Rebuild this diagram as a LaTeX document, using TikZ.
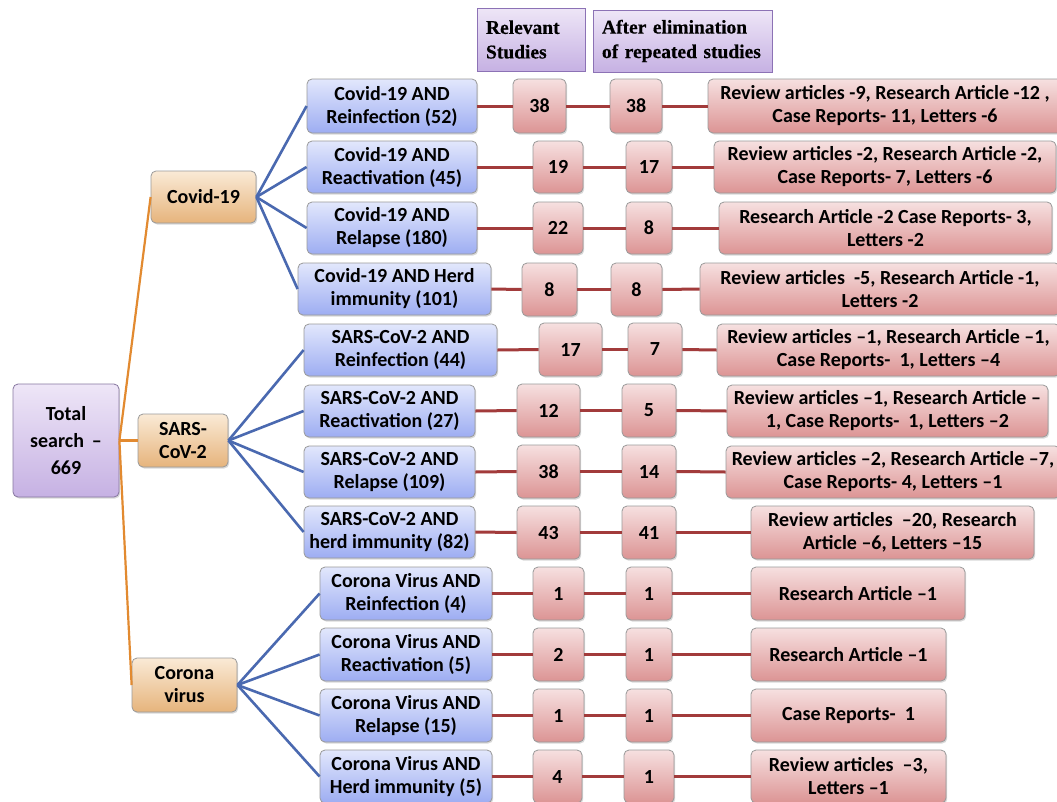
\documentclass[tikz,border=0pt]{standalone}
\usepackage{fontspec}
\setmainfont{Carlito}
\newfontfamily\hdrfont[BoldFeatures={FakeBold=0.4}]{Liberation Serif}
\usetikzlibrary{shadows}
\definecolor{purT}{HTML}{EEE6F7}
\definecolor{purB}{HTML}{C6B1E3}
\definecolor{purD}{HTML}{8C72B5}
\definecolor{orT}{HTML}{FAEAD6}
\definecolor{orB}{HTML}{E6B47C}
\definecolor{bluT}{HTML}{E2E7FC}
\definecolor{bluB}{HTML}{9DADF2}
\definecolor{pnkT}{HTML}{F6E0E0}
\definecolor{pnkB}{HTML}{DC9494}
\definecolor{edgeG}{HTML}{9A9A9A}
\definecolor{lnOr}{HTML}{E28A30}
\definecolor{lnBl}{HTML}{4A69B0}
\definecolor{lnRd}{HTML}{A23B3B}
\begin{document}
\begin{tikzpicture}[x=1pt,y=-1pt,
  box/.style={rounded corners=5pt, draw=edgeG, line width=0.8pt, inner sep=1pt, align=center,
    font=\bfseries\fontsize{20}{23}\selectfont,
    drop shadow={shadow xshift=1.2pt, shadow yshift=-1.5pt, opacity=0.3}},
  wh/.style 2 args={minimum width=#1, minimum height=#2},
  cat/.style={box, top color=orT, bottom color=orB},
  sub/.style={box, top color=bluT, bottom color=bluB},
  num/.style={box, top color=pnkT, bottom color=pnkB},
  tot/.style={box, top color=purT, bottom color=purB, draw=purD!60!gray,
    font=\bfseries\fontsize{20}{27}\selectfont},
  hdr/.style={draw=purD, line width=0.9pt, top color=purT, bottom color=purB, align=left,
    inner xsep=9pt, inner ysep=0pt, font=\hdrfont\bfseries\fontsize{19.5}{24.5}\selectfont,
    drop shadow={shadow xshift=1pt, shadow yshift=-1pt, opacity=0.2}},
  orline/.style={draw=lnOr, line width=2.2pt},
  blline/.style={draw=lnBl, line width=2.6pt},
  rdline/.style={draw=lnRd, line width=3pt}
]
\useasboundingbox (0,0) rectangle (1057,801);
\clip (0,0) rectangle (1057,801);
\fill[white] (0,0) rectangle (1057,801);

% headers
\node[hdr, text width=90pt, minimum height=63pt] (hRel) at (531,39.5) {\mbox{Relevant}\\\mbox{Studies}};
\node[hdr, text width=161pt, minimum height=62pt] (hAft) at (682.5,41) {\mbox{After elimination}\\\mbox{of repeated studies}};

% total and categories
\node[tot, wh={106pt}{113pt}] (tot) at (66,440.5) {Total\\search \,--\\669};
\node[cat, wh={105pt}{52pt}] (cCov) at (203.5,197) {Covid-19};
\node[cat, wh={90pt}{53pt}] (cSars) at (183,440.5) {SARS-\\CoV-2};
\node[cat, wh={105pt}{54pt}] (cCor) at (184.5,685) {Corona\\virus};

% sub-categories
\node[sub, wh={170pt}{54pt}] (b1) at (392,106) {Covid-19 AND\\Reinfection (52)};
\node[sub, wh={170pt}{52pt}] (b2) at (392,167) {Covid-19 AND\\Reactivation (45)};
\node[sub, wh={170pt}{52pt}] (b3) at (392,228) {Covid-19 AND\\Relapse (180)};
\node[sub, wh={193pt}{52pt}] (b4) at (394.5,289) {Covid-19 AND Herd\\immunity (101)};
\node[sub, wh={193pt}{52pt}] (b5) at (400.5,350) {SARS-CoV-2 AND\\Reinfection (44)};
\node[sub, wh={171pt}{52pt}] (b6) at (389.5,411) {SARS-CoV-2 AND\\Reactivation (27)};
\node[sub, wh={171pt}{52pt}] (b7) at (389.5,472) {SARS-CoV-2 AND\\Relapse (109)};
\node[sub, wh={171pt}{52pt}] (b8) at (389.5,532) {SARS-CoV-2 AND\\herd immunity (82)};
\node[sub, wh={172pt}{53pt}] (b9) at (406,593.5) {Corona Virus AND\\Reinfection (4)};
\node[sub, wh={172pt}{53pt}] (b10) at (406,654.5) {Corona Virus AND\\Reactivation (5)};
\node[sub, wh={172pt}{53pt}] (b11) at (406,715.5) {Corona Virus AND\\Relapse (15)};
\node[sub, wh={172pt}{53pt}] (b12) at (406,776.5) {Corona Virus AND\\Herd immunity (5)};

% relevant studies
\node[num, wh={53pt}{54pt}] (m1) at (539.5,106) {38};
\node[num, wh={50pt}{52pt}] (m2) at (558,167) {19};
\node[num, wh={50pt}{52pt}] (m3) at (558,228) {22};
\node[num, wh={55pt}{53pt}] (m4) at (549.5,289.5) {8};
\node[num, wh={63pt}{53pt}] (m5) at (570.5,349.5) {17};
\node[num, wh={63pt}{53pt}] (m6) at (548.5,410.5) {12};
\node[num, wh={63pt}{53pt}] (m7) at (548.5,471.5) {38};
\node[num, wh={63pt}{53pt}] (m8) at (548.5,532.5) {43};
\node[num, wh={51pt}{53pt}] (m9) at (558.5,593.5) {1};
\node[num, wh={51pt}{53pt}] (m10) at (558.5,654.5) {2};
\node[num, wh={51pt}{53pt}] (m11) at (558.5,715.5) {1};
\node[num, wh={49pt}{53pt}] (m12) at (557.5,776.5) {4};

% after elimination
\node[num, wh={52pt}{54pt}] (a1) at (636,106) {38};
\node[num, wh={46pt}{52pt}] (a2) at (649,167) {17};
\node[num, wh={46pt}{52pt}] (a3) at (649,228) {8};
\node[num, wh={51pt}{53pt}] (a4) at (636.5,289.5) {8};
\node[num, wh={54pt}{53pt}] (a5) at (655,349.5) {7};
\node[num, wh={54pt}{53pt}] (a6) at (649,410.5) {5};
\node[num, wh={54pt}{53pt}] (a7) at (649,471.5) {14};
\node[num, wh={54pt}{53pt}] (a8) at (649,532.5) {41};
\node[num, wh={46pt}{53pt}] (a9) at (649,593.5) {1};
\node[num, wh={46pt}{53pt}] (a10) at (649,654.5) {1};
\node[num, wh={46pt}{53pt}] (a11) at (649,715.5) {1};
\node[num, wh={50pt}{53pt}] (a12) at (649,776.5) {1};

% study types
\node[num, wh={354pt}{54pt}] (r1) at (885,106) {Review articles -9, Research Article -12 ,\\Case Reports- 11, Letters -6};
\node[num, wh={342pt}{52pt}] (r2) at (885,167) {Review articles -2, Research Article -2,\\Case Reports- 7, Letters -6};
\node[num, wh={333pt}{52pt}] (r3) at (885.5,228) {Research Article -2 Case Reports- 3,\\Letters -2};
\node[num, wh={360pt}{52pt}] (r4) at (880,289) {Review articles \ -5, Research Article -1,\\Letters -2};
\node[num, wh={343pt}{52pt}] (r5) at (888.5,350) {Review articles --1, Research Article --1,\\Case Reports- \ 1, Letters --4};
\node[num, wh={321pt}{52pt}] (r6) at (887.5,411) {Review articles --1, Research Article --\\1, Case Reports- \ 1, Letters --2};
\node[num, wh={334pt}{52pt}] (r7) at (893,472) {Review articles --2, Research Article --7,\\Case Reports- 4, Letters --1};
\node[num, wh={283pt}{53pt}] (r8) at (892.5,532.5) {Review articles \ --20, Research\\Article --6, Letters --15};
\node[num, wh={214pt}{53pt}] (r9) at (858,593.5) {Research Article --1};
\node[num, wh={195pt}{53pt}] (r10) at (848.5,654.5) {Research Article --1};
\node[num, wh={195pt}{53pt}] (r11) at (848.5,715.5) {Case Reports- \ 1};
\node[num, wh={195pt}{53pt}] (r12) at (848.5,776.5) {Review articles \ --3,\\Letters --1};

% connectors
\foreach \c in {cCov,cSars,cCor} \draw[orline] (tot.east) -- (\c.west);
\foreach \i in {1,2,3,4} \draw[blline] (cCov.east) -- (b\i.west);
\foreach \i in {5,6,7,8} \draw[blline] (cSars.east) -- (b\i.west);
\foreach \i in {9,10,11,12} \draw[blline] (cCor.east) -- (b\i.west);
\foreach \i in {1,...,12} {
  \draw[rdline] (b\i.east) -- (m\i.west);
  \draw[rdline] (m\i.east) -- (a\i.west);
  \draw[rdline] (a\i.east) -- (r\i.west);
}
\end{tikzpicture}
\end{document}
